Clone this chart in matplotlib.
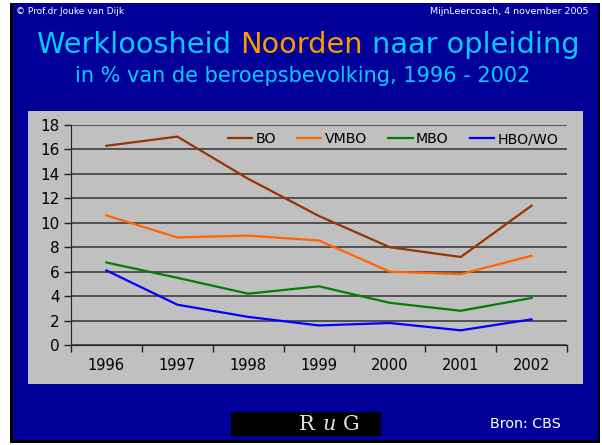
import matplotlib.pyplot as plt
from matplotlib.patches import Rectangle

years = ['1996', '1997', '1998', '1999', '2000', '2001', '2002']
bo = [16.3, 17.05, 13.6, 10.55, 8.0, 7.2, 11.4]
vmbo = [10.6, 8.8, 8.95, 8.55, 6.0, 5.8, 7.3]
mbo = [6.75, 5.5, 4.2, 4.8, 3.45, 2.8, 3.85]
hbo_wo = [6.1, 3.3, 2.3, 1.6, 1.8, 1.2, 2.1]

series = [('BO', bo, '#993300'), ('VMBO', vmbo, '#FF6600'),
          ('MBO', mbo, '#008000'), ('HBO/WO', hbo_wo, '#0000FF')]

W, H = 602, 445
fig = plt.figure(figsize=(W / 100, H / 100), dpi=100, facecolor='white')

def px_rect(x0, y0, x1, y1, color, z):
    # rectangle in pixel coords (top-left origin)
    fig.patches.append(Rectangle((x0 / W, 1 - y1 / H), (x1 - x0) / W, (y1 - y0) / H,
                                 transform=fig.transFigure, facecolor=color,
                                 edgecolor='none', zorder=z))

px_rect(10, 3, 600, 443, 'black', 0)
px_rect(13, 3, 598, 440, '#000099', 1)
px_rect(28, 111, 583, 384, '#C0C0C0', 2)
px_rect(231, 412, 381, 436, 'black', 2)

ax = fig.add_axes([71 / W, 1 - 345 / H, (567 - 71) / W, (345 - 125) / H])
ax.set_facecolor('#C0C0C0')
ax.set_zorder(3)

x = list(range(len(years)))
for name, vals, col in series:
    ax.plot(x, vals, color=col, lw=1.6, label=name)

ax.set_xlim(-0.5, 6.5)
ax.set_ylim(0, 18)
ax.set_yticks(range(0, 19, 2))
ax.set_xticks([i + 0.5 for i in range(-1, 7)])
ax.set_xticklabels([])
ax.set_xticks(x, minor=True)
ax.set_xticklabels(years, minor=True, fontsize=10.5)
ax.tick_params(axis='x', which='minor', length=0, pad=9)
ax.tick_params(axis='x', which='major', length=5, width=1, color='#222222')
ax.tick_params(axis='y', length=5, width=1, color='#222222', labelsize=11, pad=3)
ax.yaxis.grid(True, color='#333333', lw=1.1)
ax.set_axisbelow(True)
for s in ['top', 'right']:
    ax.spines[s].set_visible(False)
for s in ['left', 'bottom']:
    ax.spines[s].set_color('#222222')

ax.legend(loc='upper right', bbox_to_anchor=(1.0, 1.005), ncol=4, frameon=False,
          fontsize=10.2, handlelength=1.7, handletextpad=0.25, columnspacing=1.5,
          borderaxespad=0.2)

fig.text(16 / W, 1 - 11 / H, '© Prof.dr Jouke van Dijk', color='white', fontsize=6.5,
         va='center', ha='left', zorder=5)
fig.text(588 / W, 1 - 11 / H, 'MijnLeercoach, 4 november 2005', color='white',
         fontsize=6.8, va='center', ha='right', zorder=5)

fs = 20.7
t1 = fig.text(37 / W, 1 - 45 / H, 'Werkloosheid ', color='#00CCFF', fontsize=fs,
              va='center', ha='left', zorder=5)
fig.canvas.draw()
r = fig.canvas.get_renderer()
bb = t1.get_window_extent(r)
t2 = fig.text(bb.x1 / W, 1 - 45 / H, 'Noorden', color='#FF9900', fontsize=fs,
              va='center', ha='left', zorder=5)
bb2 = t2.get_window_extent(r)
fig.text(bb2.x1 / W, 1 - 45 / H, ' naar opleiding', color='#00CCFF', fontsize=fs,
         va='center', ha='left', zorder=5)
fig.text(303 / W, 1 - 76 / H, 'in % van de beroepsbevolking, 1996 - 2002',
         color='#00CCFF', fontsize=15, va='center', ha='center', zorder=5)

for ch, xp, st in [('R', 307, 'normal'), ('u', 329, 'italic'), ('G', 351, 'normal')]:
    fig.text(xp / W, 1 - 424 / H, ch, color='#DDDDDD', fontsize=15, style=st,
             family='DejaVu Serif', va='center', ha='center', zorder=5)
fig.text(525 / W, 1 - 424 / H, 'Bron: CBS', color='white', fontsize=10.3,
         va='center', ha='center', zorder=5)

fig.savefig('out.png', dpi=100, facecolor='white')
